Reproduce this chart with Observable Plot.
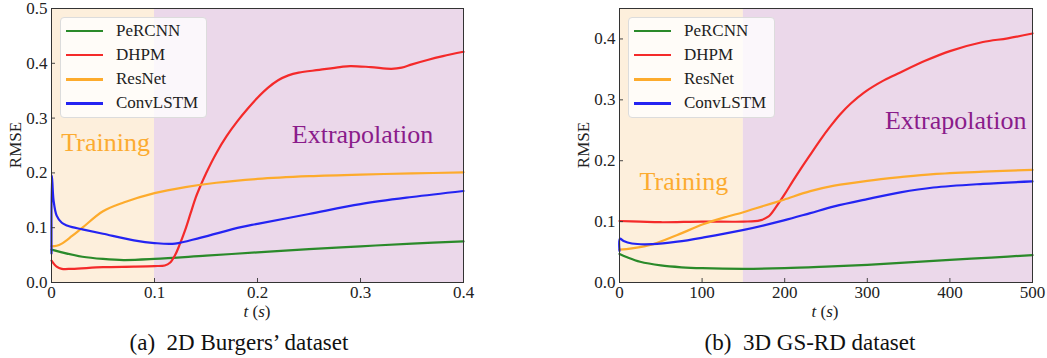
<!DOCTYPE html>
<html>
<head>
<meta charset="utf-8">
<script src="https://cdn.jsdelivr.net/npm/d3@7"></script>
<script src="https://cdn.jsdelivr.net/npm/@observablehq/plot@0.6"></script>
<style>
  html, body { margin: 0; padding: 0; background: #fff; }
  #fig { position: relative; width: 1047px; height: 358px; overflow: hidden; font-family: "Liberation Serif", "Tinos", "Times New Roman", "DejaVu Serif", "Noto Serif", serif; color: #222; }
  .panel { position: absolute; top: 0; }
  .panel svg { overflow: visible; }
  .ylab { position: absolute; font-size: 17px; line-height: 1; transform: translate(-50%, -50%) rotate(-90deg); white-space: nowrap; }
  .xlab { position: absolute; font-size: 17px; line-height: 1; transform: translate(-50%, -50%); white-space: nowrap; }
  .cap { position: absolute; font-size: 23px; line-height: 1; transform: translate(-50%, -50%); white-space: nowrap; color: #111; }
  .legend { position: absolute; background: rgba(255,255,255,0.8); border: 1px solid #dcdcdc; border-radius: 4px; box-sizing: border-box; }
  .lrow { position: absolute; left: 0; height: 0; }
  .lrow .sw { position: absolute; top: -1px; height: 2.5px; width: 37px; left: 5px; }
  .lrow .tx { position: absolute; left: 55px; top: -11px; font-size: 17px; line-height: 22px; white-space: nowrap; color: #222; }
</style>
</head>
<body>
<div id="fig"></div>
<script>
// ---------- shared ----------
const seriesNames = ["PeRCNN", "DHPM", "ResNet", "ConvLSTM"];
const seriesColors = ["#2a8a2a", "#f42a2a", "#fdab2c", "#2424f2"];

// ---------- panel (a): 2D Burgers ----------
const xTicksA = [0, 0.1, 0.2, 0.3, 0.4];
const xTickLabelsA = ["0", "0.1", "0.2", "0.3", "0.4"];
const yTicksA = [0, 0.1, 0.2, 0.3, 0.4, 0.5];
const yTickLabelsA = ["0.0", "0.1", "0.2", "0.3", "0.4", "0.5"];
const trainEndA = 0.1;

const tA_PeRCNN = [0, 0.01, 0.03, 0.05, 0.07, 0.1, 0.15, 0.2, 0.25, 0.3, 0.35, 0.4];
const vA_PeRCNN = [0.060, 0.055, 0.047, 0.043, 0.041, 0.043, 0.049, 0.055, 0.061, 0.066, 0.071, 0.075];

const tA_DHPM = [0, 0.005, 0.01, 0.02, 0.05, 0.08, 0.1, 0.11, 0.115, 0.12, 0.125, 0.13, 0.135, 0.14, 0.145, 0.15, 0.16, 0.17, 0.18, 0.19, 0.2, 0.21, 0.22, 0.23, 0.24, 0.26, 0.28, 0.29, 0.31, 0.33, 0.34, 0.35, 0.365, 0.38, 0.4];
const vA_DHPM = [0.040, 0.029, 0.025, 0.025, 0.028, 0.029, 0.030, 0.031, 0.036, 0.050, 0.072, 0.097, 0.126, 0.155, 0.178, 0.199, 0.236, 0.267, 0.293, 0.316, 0.337, 0.355, 0.369, 0.378, 0.383, 0.388, 0.393, 0.395, 0.393, 0.390, 0.392, 0.398, 0.406, 0.413, 0.421];

const tA_ResNet = [0, 0.005, 0.01, 0.02, 0.03, 0.05, 0.07, 0.1, 0.13, 0.16, 0.2, 0.25, 0.3, 0.35, 0.4];
const vA_ResNet = [0.066, 0.067, 0.071, 0.085, 0.100, 0.130, 0.146, 0.163, 0.174, 0.182, 0.189, 0.194, 0.197, 0.199, 0.201];

const tA_ConvLSTM = [0, 0.0004, 0.002, 0.005, 0.01, 0.015, 0.02, 0.03, 0.05, 0.08, 0.1, 0.12, 0.145, 0.184, 0.2, 0.25, 0.3, 0.35, 0.4];
const vA_ConvLSTM = [0.053, 0.195, 0.150, 0.122, 0.109, 0.104, 0.101, 0.097, 0.089, 0.077, 0.072, 0.071, 0.082, 0.101, 0.107, 0.125, 0.143, 0.156, 0.167];

// ---------- panel (b): 3D GS-RD ----------
const xTicksB = [0, 100, 200, 300, 400, 500];
const xTickLabelsB = ["0", "100", "200", "300", "400", "500"];
const yTicksB = [0, 0.1, 0.2, 0.3, 0.4];
const yTickLabelsB = ["0.0", "0.1", "0.2", "0.3", "0.4"];
const trainEndB = 150;

const tB_PeRCNN = [0, 10, 25, 50, 75, 100, 150, 200, 250, 300, 350, 400, 450, 500];
const vB_PeRCNN = [0.047, 0.041, 0.034, 0.028, 0.025, 0.0235, 0.0225, 0.0235, 0.026, 0.029, 0.033, 0.037, 0.041, 0.045];

const tB_DHPM = [0, 25, 50, 100, 150, 170, 180, 190, 200, 210, 220, 230, 243, 255, 267, 280, 296, 320, 340, 370, 400, 440, 470, 500];
const vB_DHPM = [0.101, 0.100, 0.099, 0.100, 0.100, 0.102, 0.108, 0.125, 0.145, 0.167, 0.188, 0.208, 0.234, 0.256, 0.276, 0.294, 0.312, 0.332, 0.345, 0.364, 0.380, 0.395, 0.401, 0.409];

const tB_ResNet = [0, 15, 41, 70, 102, 130, 149, 175, 199, 231, 260, 300, 340, 380, 440, 500];
const vB_ResNet = [0.054, 0.056, 0.063, 0.078, 0.096, 0.108, 0.115, 0.126, 0.136, 0.150, 0.159, 0.167, 0.173, 0.178, 0.182, 0.185];

const tB_ConvLSTM = [0, 0.5, 5, 15, 40, 70, 102, 149, 199, 231, 260, 300, 340, 380, 440, 500];
const vB_ConvLSTM = [0.052, 0.072, 0.068, 0.064, 0.063, 0.067, 0.074, 0.086, 0.102, 0.114, 0.125, 0.137, 0.148, 0.156, 0.162, 0.166];

// ---------- build ----------
const zip = (ts, vs) => ts.map((t, i) => ({t, v: vs[i]}));
const seriesA = [zip(tA_PeRCNN, vA_PeRCNN), zip(tA_DHPM, vA_DHPM), zip(tA_ResNet, vA_ResNet), zip(tA_ConvLSTM, vA_ConvLSTM)];
const seriesB = [zip(tB_PeRCNN, vB_PeRCNN), zip(tB_DHPM, vB_DHPM), zip(tB_ResNet, vB_ResNet), zip(tB_ConvLSTM, vB_ConvLSTM)];

const FONT = "'Liberation Serif', 'Tinos', 'Times New Roman', 'DejaVu Serif', 'Noto Serif', serif";
const TRAIN_BG = "#fdefdc", EXTRA_BG = "#ebd8ea";

function panel(cfg) {
  const innerW = cfg.width - cfg.ml - cfg.mr;
  const innerH = cfg.height - cfg.mt - cfg.mb;
  const [x0, x1] = cfg.xDomain;
  const regions = [{x1: x0, x2: cfg.trainEnd, fill: TRAIN_BG}, {x1: cfg.trainEnd, x2: x1, fill: EXTRA_BG}];
  const marks = [
    Plot.rect(regions, {x1: "x1", x2: "x2", fill: "fill"}),
    ...cfg.series.map((s, i) => Plot.line(s, {x: "t", y: "v", stroke: seriesColors[i], strokeWidth: 2.2, curve: "catmull-rom"})),
    Plot.ruleX(cfg.xTicks.slice(1, -1), {x: d => d, insetTop: innerH - 4, stroke: "#333", strokeWidth: 0.9}),
    Plot.ruleY(cfg.yTicks.slice(1), {y: d => d, insetRight: innerW - 4, stroke: "#333", strokeWidth: 0.9}),
    Plot.text([cfg.trainLabel], {x: "x", y: "y", text: "text", fill: "#fcab30", fontSize: 26, fontFamily: FONT}),
    Plot.text([cfg.extraLabel], {x: "x", y: "y", text: "text", fill: "#8a1c8a", fontSize: 26, fontFamily: FONT}),
    Plot.frame({stroke: "#333", strokeWidth: 1})
  ];
  return Plot.plot({
    width: cfg.width, height: cfg.height,
    marginLeft: cfg.ml, marginRight: cfg.mr, marginTop: cfg.mt, marginBottom: cfg.mb,
    style: {fontFamily: FONT, fontSize: "17px", color: "#222", background: "transparent", overflow: "visible"},
    x: {domain: cfg.xDomain, ticks: cfg.xTicks, tickFormat: d => cfg.xTickLabels[cfg.xTicks.indexOf(d)], tickSize: 0, tickPadding: 3, label: null},
    y: {domain: cfg.yDomain, ticks: cfg.yTicks, tickFormat: d => cfg.yTickLabels[cfg.yTicks.indexOf(d)], tickSize: 0, tickPadding: 4, label: null},
    marks
  });
}

const fig = document.getElementById("fig");

function addPanel(left, cfg, legendLeft, capText, capX, xlabX, ylabX) {
  const div = document.createElement("div");
  div.className = "panel";
  div.style.left = left + "px";
  div.appendChild(panel(cfg));
  fig.appendChild(div);

  const lg = document.createElement("div");
  lg.className = "legend";
  lg.style.left = legendLeft + "px";
  lg.style.top = "17px";
  lg.style.width = "147px";
  lg.style.height = "101px";
  seriesNames.forEach((name, i) => {
    const row = document.createElement("div");
    row.className = "lrow";
    row.style.top = (12.5 + i * 24.3) + "px";
    const sw = document.createElement("div");
    sw.className = "sw";
    sw.style.background = seriesColors[i];
    const tx = document.createElement("div");
    tx.className = "tx";
    tx.textContent = name;
    row.appendChild(sw); row.appendChild(tx);
    lg.appendChild(row);
  });
  fig.appendChild(lg);

  const yl = document.createElement("div");
  yl.className = "ylab"; yl.textContent = "RMSE";
  yl.style.left = ylabX + "px"; yl.style.top = "145px";
  fig.appendChild(yl);

  const xl = document.createElement("div");
  xl.className = "xlab"; xl.innerHTML = "<i>t</i>&nbsp;(<i>s</i>)";
  xl.style.left = xlabX + "px"; xl.style.top = "311px";
  fig.appendChild(xl);

  const cap = document.createElement("div");
  cap.className = "cap"; cap.innerHTML = capText;
  cap.style.left = capX + "px"; cap.style.top = "342px";
  fig.appendChild(cap);
}

addPanel(0, {
  width: 490, height: 320, ml: 51, mr: 27, mt: 8, mb: 38,
  xDomain: [0, 0.4], yDomain: [0, 0.5],
  xTicks: xTicksA, xTickLabels: xTickLabelsA, yTicks: yTicksA, yTickLabels: yTickLabelsA,
  trainEnd: trainEndA, series: seriesA,
  trainLabel: {x: 0.0525, y: 0.255, text: "Training"},
  extraLabel: {x: 0.302, y: 0.27, text: "Extrapolation"}
}, 60, "(a)&nbsp;&nbsp;2D Burgers’ dataset", 239, 257, 15);

addPanel(570, {
  width: 477, height: 320, ml: 49, mr: 15, mt: 8, mb: 38,
  xDomain: [0, 500], yDomain: [0, 0.45],
  xTicks: xTicksB, xTickLabels: xTickLabelsB, yTicks: yTicksB, yTickLabels: yTickLabelsB,
  trainEnd: trainEndB, series: seriesB,
  trainLabel: {x: 78, y: 0.165, text: "Training"},
  extraLabel: {x: 407, y: 0.266, text: "Extrapolation"}
}, 628, "(b)&nbsp;&nbsp;3D GS-RD dataset", 810, 825, 583);
</script>
</body>
</html>
